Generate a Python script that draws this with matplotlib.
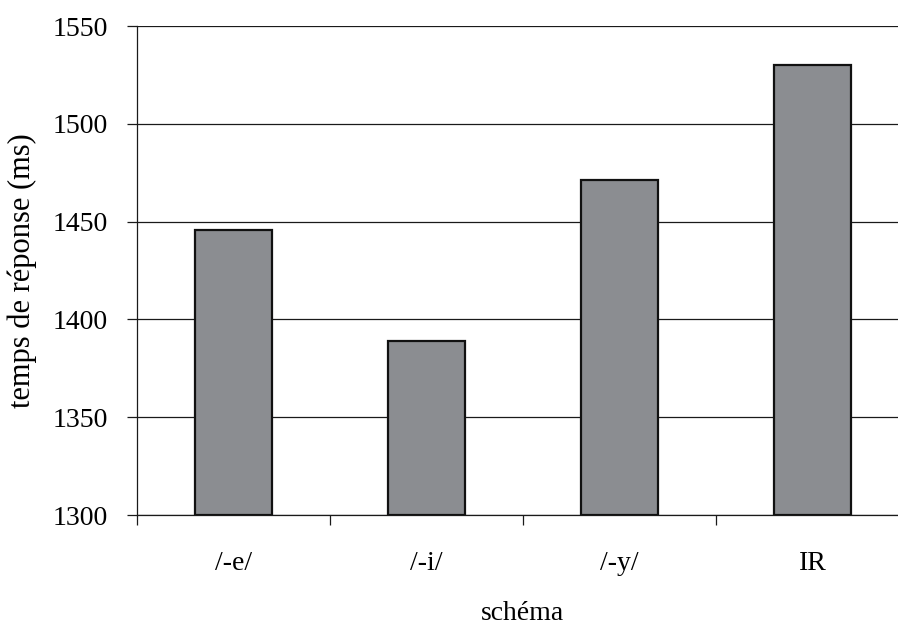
import numpy as np
import matplotlib
matplotlib.use("Agg")
import matplotlib.pyplot as plt
from matplotlib.ticker import FixedLocator

# Mean response time per pattern
categories = ["/-e/", "/-i/", "/-y/", "IR"]
response_ms = [1445.5, 1389, 1471.5, 1530]
y_ticks = [1300, 1350, 1400, 1450, 1500, 1550]

plt.rcParams["font.family"] = ["Liberation Serif", "DejaVu Serif"]

fig = plt.figure(figsize=(8.98, 6.26), dpi=100)
ax = fig.add_axes([137 / 898, 1 - 515 / 626, 772 / 898, 489 / 626])

x = np.arange(len(categories))
ax.bar(x, [v - 1300 for v in response_ms], bottom=1300, width=0.40,
       color="#8b8d91", edgecolor="#111111", linewidth=1.6, zorder=3)

ax.set_xlim(-0.5, len(categories) - 0.5)
ax.set_ylim(1300, 1550)
ax.set_yticks(y_ticks)
ax.yaxis.grid(True, color="#1a1a1a", linewidth=0.9, zorder=0)
ax.set_axisbelow(True)

ax.set_xticks(x)
ax.set_xticklabels(categories, fontsize=20)
ax.xaxis.set_minor_locator(FixedLocator(np.arange(-0.5, len(categories), 1.0)))
ax.tick_params(axis="x", which="major", length=0, pad=26)
ax.tick_params(axis="x", which="minor", length=7, width=0.9, direction="out", color="#1a1a1a")
ax.tick_params(axis="y", which="major", length=7, width=0.9, direction="out",
               labelsize=20, pad=14, color="#1a1a1a")

for side in ("top", "right"):
    ax.spines[side].set_visible(False)
ax.spines["left"].set_linewidth(0.9)
ax.spines["bottom"].set_linewidth(0.9)
ax.spines["left"].set_color("#1a1a1a")
ax.spines["bottom"].set_color("#1a1a1a")

ax.set_ylabel("temps de réponse (ms)", fontsize=22, labelpad=11)
ax.set_xlabel("schéma", fontsize=20, labelpad=18)

fig.savefig("out.png", dpi=100)
